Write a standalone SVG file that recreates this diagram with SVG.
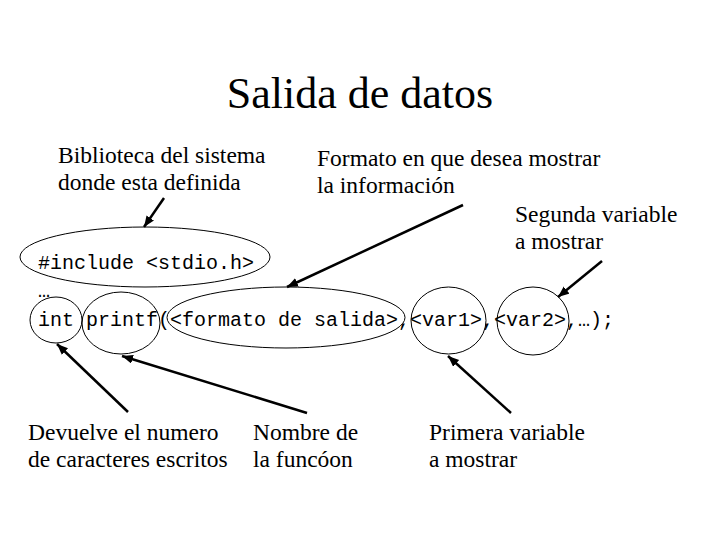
<svg xmlns="http://www.w3.org/2000/svg" width="720" height="540" viewBox="0 0 720 540">
<defs>
<marker id="ah" markerUnits="userSpaceOnUse" markerWidth="12" markerHeight="10" refX="11" refY="4.5" orient="auto">
<path d="M0,0 L11,4.5 L0,9 z" fill="#000"/>
</marker>
</defs>
<rect width="720" height="540" fill="#fff"/>
<text font-family="Liberation Serif, serif" font-size="44" fill="#000" x="360" y="108" text-anchor="middle">Salida de datos</text>

<g id="l-biblioteca">
<text font-family="Liberation Serif, serif" font-size="23.5" x="58" y="163">Biblioteca del sistema</text>
<text font-family="Liberation Serif, serif" font-size="23.5" x="58" y="190">donde esta definida</text>
</g>
<g id="l-formato">
<text font-family="Liberation Serif, serif" font-size="23.5" x="317" y="166">Formato en que desea mostrar</text>
<text font-family="Liberation Serif, serif" font-size="23.5" x="317" y="193">la información</text>
</g>
<g id="l-segunda">
<text font-family="Liberation Serif, serif" font-size="23.5" x="515" y="222">Segunda variable</text>
<text font-family="Liberation Serif, serif" font-size="23.5" x="515" y="249">a mostrar</text>
</g>
<g id="l-devuelve">
<text font-family="Liberation Serif, serif" font-size="23.5" x="28" y="440">Devuelve el numero</text>
<text font-family="Liberation Serif, serif" font-size="23.5" x="28" y="467">de caracteres escritos</text>
</g>
<g id="l-nombre">
<text font-family="Liberation Serif, serif" font-size="23.5" x="253" y="440">Nombre de</text>
<text font-family="Liberation Serif, serif" font-size="23.5" x="253" y="467">la funcóon</text>
</g>
<g id="l-primera">
<text font-family="Liberation Serif, serif" font-size="23.5" x="429" y="440">Primera variable</text>
<text font-family="Liberation Serif, serif" font-size="23.5" x="429" y="467">a mostrar</text>
</g>

<g id="code">
<text font-family="Liberation Mono, monospace" font-size="20" x="38" y="269">#include &lt;stdio.h&gt;</text>
<text font-family="Liberation Mono, monospace" font-size="20" x="38" y="297">…</text>
<text font-family="Liberation Mono, monospace" font-size="20" x="38" y="326">int printf(&lt;formato de salida&gt;,&lt;var1&gt;,&lt;var2&gt;,…);</text>
</g>

<g id="n-include"><ellipse fill="none" stroke="#000" stroke-width="1" cx="145" cy="257" rx="125" ry="30"/></g>
<g id="n-int"><ellipse fill="none" stroke="#000" stroke-width="1" cx="56" cy="320" rx="26" ry="23"/></g>
<g id="n-printf"><ellipse fill="none" stroke="#000" stroke-width="1" cx="121" cy="323" rx="39" ry="31"/></g>
<g id="n-formato"><ellipse fill="none" stroke="#000" stroke-width="1" cx="286" cy="317.5" rx="119" ry="30.5"/></g>
<g id="n-var1"><ellipse fill="none" stroke="#000" stroke-width="1" cx="448.5" cy="320.5" rx="37.5" ry="33.5"/></g>
<g id="n-var2"><ellipse fill="none" stroke="#000" stroke-width="1" cx="533" cy="321" rx="36" ry="34"/></g>

<g id="connectors" stroke="#000" stroke-width="2.5" fill="none" marker-end="url(#ah)">
<line x1="164" y1="198" x2="144" y2="227"/>
<line x1="463" y1="205" x2="287" y2="287"/>
<line x1="602" y1="261" x2="558" y2="297"/>
<line x1="128" y1="412" x2="57" y2="344"/>
<line x1="307" y1="413" x2="122" y2="356"/>
<line x1="511" y1="413" x2="448" y2="356"/>
</g>
</svg>
